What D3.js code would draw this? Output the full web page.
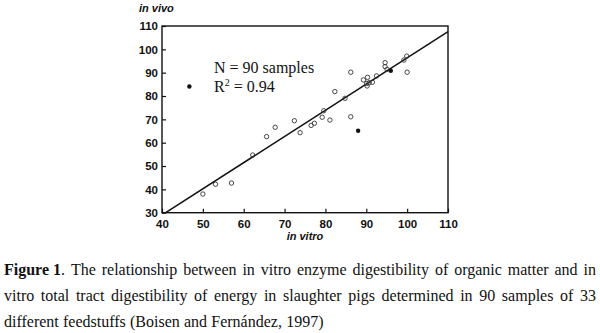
<!DOCTYPE html>
<html><head><meta charset="utf-8">
<script src="https://cdn.jsdelivr.net/npm/d3@7"></script>
<style>body{margin:0;background:#fff}svg{display:block}</style>
</head><body>
<svg id="c" width="600" height="333"></svg>
<script>
// Data (in vitro, in vivo)
const openX = [50.0,53.1,57.0,62.2,65.6,67.7,72.4,73.8,76.5,77.3,79.2,79.6,81.1,82.3,84.8,86.2,86.2,89.3,90.3,90.2,90.1,90.7,91.5,92.5,94.6,94.6,95.1,99.2,99.9,100.0];
const openY = [38.0,42.2,42.7,54.7,62.6,66.6,69.4,64.3,67.4,68.3,70.9,73.7,69.7,81.9,79.0,90.2,71.1,86.9,88.0,84.3,85.4,85.7,85.9,88.6,94.3,92.6,91.4,95.4,97.1,90.2];
const filledX = [46.7,88.0,96.0];
const filledY = [84.1,65.1,90.8];
const fitX = [40.9,110];
const fitY = [30,107.6];
const xTicks = [40,50,60,70,80,90,100,110];
const yTicks = [30,40,50,60,70,80,90,100,110];
const annot = ["N = 90 samples","R² = 0.94"];
const caption = [
  ["Figure 1", ". The relationship between in vitro enzyme digestibility of organic matter and in"],
  ["", "vitro total tract digestibility of energy in slaughter pigs determined in 90 samples of 33"],
  ["", "different feedstuffs (Boisen and Fernández, 1997)"]
];

const svg = d3.select("#c");
const x = d3.scaleLinear().domain([40,110]).range([162,448]);
const y = d3.scaleLinear().domain([30,110]).range([212.7,26]);

// frame
svg.append("rect").attr("x",162).attr("y",26).attr("width",286).attr("height",186.7)
  .attr("fill","none").attr("stroke","#111").attr("stroke-width",1.4);

const tickFont = "Liberation Sans, Arial, sans-serif";
const xa = svg.append("g").attr("transform","translate(0,212.7)")
  .call(d3.axisBottom(x).tickValues(xTicks).tickSize(-4).tickPadding(8).tickFormat(d3.format("d")));
const ya = svg.append("g").attr("transform","translate(162,0)")
  .call(d3.axisLeft(y).tickValues(yTicks).tickSize(-4).tickPadding(4).tickFormat(d3.format("d")));
[xa,ya].forEach(g=>{
  g.select(".domain").remove();
  g.selectAll("line").attr("stroke","#111").attr("stroke-width",1.2);
  g.selectAll("text").attr("font-family",tickFont).attr("font-weight","bold").attr("font-size",11.5).attr("fill","#111");
});
xa.selectAll("text").attr("dy","0.6em");

svg.append("text").attr("x",139).attr("y",12).text("in vivo")
  .attr("font-family",tickFont).attr("font-weight","bold").attr("font-style","italic").attr("font-size",11).attr("fill","#111");
svg.append("text").attr("x",305).attr("y",240).attr("text-anchor","middle").text("in vitro")
  .attr("font-family",tickFont).attr("font-weight","bold").attr("font-style","italic").attr("font-size",11).attr("fill","#111");

// fit line
svg.append("line").attr("x1",x(fitX[0])).attr("y1",y(fitY[0])).attr("x2",x(fitX[1])).attr("y2",y(fitY[1]))
  .attr("stroke","#111").attr("stroke-width",1.5);

// points
svg.append("g").selectAll("circle").data(openX.map((v,i)=>[v,openY[i]])).join("circle")
  .attr("cx",d=>x(d[0])).attr("cy",d=>y(d[1])).attr("r",2.2)
  .attr("fill","none").attr("stroke","#333").attr("stroke-width",0.9);
svg.append("g").selectAll("circle").data(filledX.map((v,i)=>[v,filledY[i]])).join("circle")
  .attr("cx",d=>x(d[0])).attr("cy",d=>y(d[1])).attr("r",2.2).attr("fill","#111");

// annotation
const serif = "Liberation Serif, Times New Roman, serif";
svg.append("text").attr("x",214).attr("y",73.3).text(annot[0])
  .attr("font-family",serif).attr("font-size",16).attr("fill","#111");
const r2 = svg.append("text").attr("x",214).attr("y",91.7)
  .attr("font-family",serif).attr("font-size",16).attr("fill","#111");
r2.append("tspan").text("R");
r2.append("tspan").text("2").attr("font-size",10).attr("dy",-6);
r2.append("tspan").text(" = 0.94").attr("dy",6);

// caption (justified)
const left = 4, right = 596;
const baselines = [275, 301, 326.5];
caption.forEach((ln,i)=>{
  const rest = ln[1].split(" ");
  const g = svg.append("g");
  const items = [];
  rest.forEach((w,j)=>{
    const t = g.append("text").attr("y",baselines[i]).attr("font-family",serif).attr("font-size",16).attr("fill","#111");
    if (j===0 && ln[0]) {
      t.append("tspan").text(ln[0]).attr("font-weight","bold");
      t.append("tspan").text(w);
    } else t.text(w);
    items.push(t);
  });
  const widths = items.map(t=>t.node().getComputedTextLength());
  const total = d3.sum(widths);
  const justify = i < 2;
  const gap = justify ? (right-left-total)/(items.length-1) : 4.2;
  let cx = left;
  items.forEach((t,k)=>{ t.attr("x",cx); cx += widths[k]+gap; });
});
</script>
</body></html>
